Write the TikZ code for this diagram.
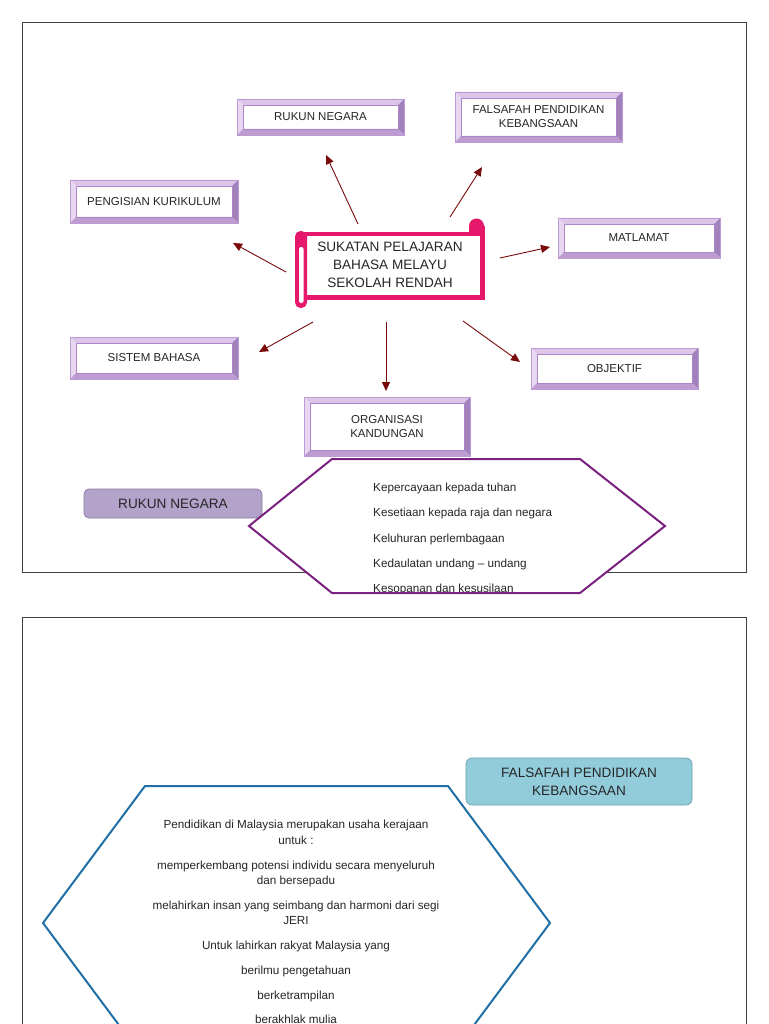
\documentclass[tikz,border=0pt]{standalone}
\usepackage{fontspec}
\setmainfont{Liberation Sans}
\usetikzlibrary{arrows.meta,calc}
\definecolor{framecol}{HTML}{404040}
\definecolor{bevout}{HTML}{BE9AD4}
\definecolor{bevtop}{HTML}{DCC5E9}
\definecolor{bevleft}{HTML}{E8D7F1}
\definecolor{bevright}{HTML}{A282BC}
\definecolor{bevbot}{HTML}{BD9DD1}
\definecolor{bevin}{HTML}{AE86C7}
\definecolor{boxtext}{HTML}{262626}
\definecolor{scrollc}{HTML}{E6186C}
\definecolor{arrred}{HTML}{7A0A0A}
\definecolor{hexpurple}{HTML}{7B2180}
\definecolor{rnfill}{HTML}{B3A2CA}
\definecolor{rndraw}{HTML}{8B7AA6}
\definecolor{hexblue}{HTML}{2070A6}
\definecolor{fpkfill}{HTML}{92CCDB}
\definecolor{fpkdraw}{HTML}{6F9FAD}
\newcommand\myboxfont{\fontsize{11.5}{14}\selectfont}
\newcommand\mybigfont{\fontsize{13.6}{18.3}\selectfont}
\newcommand\mysmallfont{\fontsize{11.7}{14}\selectfont}
\tikzset{
  bevbox/.style={draw=bevout, line width=0.7pt, fill=white, inner sep=0pt,
    align=center, text=boxtext, font=\myboxfont,
    path picture={
      \path (path picture bounding box.north west) coordinate (pnw)
            (path picture bounding box.north east) coordinate (pne)
            (path picture bounding box.south east) coordinate (pse)
            (path picture bounding box.south west) coordinate (psw);
      \fill[bevtop] (pnw) -- (pne) -- ($(pne)+(-6pt,-6pt)$) -- ($(pnw)+(6pt,-6pt)$) -- cycle;
      \fill[bevleft] (pnw) -- ($(pnw)+(6pt,-6pt)$) -- ($(psw)+(6pt,6pt)$) -- (psw) -- cycle;
      \fill[bevright] (pne) -- (pse) -- ($(pse)+(-6pt,6pt)$) -- ($(pne)+(-6pt,-6pt)$) -- cycle;
      \fill[bevbot] (psw) -- (pse) -- ($(pse)+(-6pt,6pt)$) -- ($(psw)+(6pt,6pt)$) -- cycle;
      \draw[bevin, line width=0.6pt] ($(pnw)+(6pt,-6pt)$) rectangle ($(pse)+(-6pt,6pt)$);
    }},
  arr/.style={draw=arrred, line width=0.9pt, -{Triangle[length=9pt,width=8pt]}},
  frame/.style={draw=framecol, line width=0.9pt},
  hextext/.style={anchor=base west, inner sep=0pt, font=\mysmallfont, text=boxtext},
  bluetext/.style={anchor=base, inner sep=0pt, font=\mysmallfont, text=boxtext}
}
\begin{document}
\begin{tikzpicture}[x=1pt,y=-1pt]
\useasboundingbox (0,0) rectangle (768,1024);
\clip (0,0) rectangle (768,1024);
\fill[white] (0,0) rectangle (768,1024);

% frames
\draw[frame] (22,22) rectangle (746,572);
\draw[frame] (22,617) rectangle (746,1100);

% bevelled boxes
\node[bevbox, minimum width=167pt, minimum height=36pt] (rn) at (320.5,117) {RUKUN NEGARA};
\node[bevbox, minimum width=167pt, minimum height=50pt] (fpk) at (538.5,117) {FALSAFAH PENDIDIKAN\\KEBANGSAAN};
\node[bevbox, minimum width=168pt, minimum height=43pt] (pk) at (154,201.5) {PENGISIAN KURIKULUM};
\node[bevbox, minimum width=162pt, minimum height=40pt] (mat) at (639,238) {MATLAMAT};
\node[bevbox, minimum width=168pt, minimum height=42pt] (sb) at (154,358) {SISTEM BAHASA};
\node[bevbox, minimum width=167pt, minimum height=41pt] (obj) at (614.5,368.5) {OBJEKTIF};
\node[bevbox, minimum width=166pt, minimum height=59pt] (ok) at (387,426.5) {ORGANISASI\\KANDUNGAN};

% scroll
\draw[scrollc, line width=4.8pt, fill=white] (301,234) rectangle (482.5,297.5);
\fill[scrollc] (476.5,226) circle (7.5);
\fill[scrollc] (469,226) rectangle (484.9,236);
\fill[scrollc, rounded corners=5.5pt] (295,231) rectangle (307,308);
\fill[white, rounded corners=2pt] (299,247) rectangle (303.5,303);
\node[minimum width=190pt, minimum height=88pt, inner sep=0pt, font=\mybigfont,
      align=center, text=boxtext] (c) at (390,265) {SUKATAN PELAJARAN\\BAHASA MELAYU\\SEKOLAH RENDAH};

% arrows
\coordinate (s1) at (358,224); \coordinate (e1) at (326,155);
\coordinate (s2) at (450,217); \coordinate (e2) at (482,167);
\coordinate (s3) at (286,272); \coordinate (e3) at (233,243);
\coordinate (s4) at (500,258); \coordinate (e4) at (550,247);
\coordinate (s5) at (313,322); \coordinate (e5) at (259,352);
\coordinate (s6) at (386,322); \coordinate (e6) at (386,391);
\coordinate (s7) at (463,321); \coordinate (e7) at (520,362);
\draw[arr] (s1) -- (e1);
\draw[arr] (s2) -- (e2);
\draw[arr] (s3) -- (e3);
\draw[arr] (s4) -- (e4);
\draw[arr] (s5) -- (e5);
\draw[arr] (s6) -- (e6);
\draw[arr] (s7) -- (e7);

% lower label
\node[draw=rndraw, fill=rnfill, line width=0.7pt, rounded corners=5pt,
      minimum width=178pt, minimum height=29pt, inner sep=0pt, font=\mybigfont,
      text=boxtext] (rn2) at (173,503.5) {RUKUN NEGARA};

% purple hexagon
\fill[white] (249,526) -- (332,459) -- (580,459) -- (665,526) -- (580,593) -- (332,593) -- cycle;
\begin{scope}
\clip (249,526) -- (332,459) -- (580,459) -- (665,526) -- (580,593) -- (332,593) -- cycle;
\node[hextext] (h1) at (373,491.5) {Kepercayaan kepada tuhan};
\node[hextext] (h2) at (373,516.7) {Kesetiaan kepada raja dan negara};
\node[hextext] (h3) at (373,542) {Keluhuran perlembagaan};
\node[hextext] (h4) at (373,567) {Kedaulatan undang – undang};
\node[hextext] (h5) at (373,592.5) {Kesopanan dan kesusilaan};
\end{scope}
\draw[hexpurple, line width=2pt, line join=miter] (249,526) -- (332,459) -- (580,459) -- (665,526) -- (580,593) -- (332,593) -- cycle;

% second panel
\node[draw=fpkdraw, fill=fpkfill, line width=0.7pt, rounded corners=6pt,
      minimum width=226pt, minimum height=47pt, inner sep=0pt, font=\mybigfont,
      align=center, text=boxtext] (fpk2) at (579,781.5) {FALSAFAH PENDIDIKAN\\KEBANGSAAN};

\draw[hexblue, line width=2pt, fill=white] (43,923) -- (145,786) -- (448,786) -- (550,923) -- (448,1060) -- (145,1060) -- cycle;
\node[bluetext] (b1) at (296,828) {Pendidikan di Malaysia merupakan usaha kerajaan};
\node[bluetext] (b2) at (296,844) {untuk :};
\node[bluetext] (b3) at (296,869) {memperkembang potensi individu secara menyeluruh};
\node[bluetext] (b4) at (296,884) {dan bersepadu};
\node[bluetext] (b5) at (296,909) {melahirkan insan yang seimbang dan harmoni dari segi};
\node[bluetext] (b6) at (296,924) {JERI};
\node[bluetext] (b7) at (296,949) {Untuk lahirkan rakyat Malaysia yang};
\node[bluetext] (b8) at (296,974) {berilmu pengetahuan};
\node[bluetext] (b9) at (296,999) {berketrampilan};
\node[bluetext] (b10) at (296,1023.5) {berakhlak mulia};
\end{tikzpicture}
\end{document}
